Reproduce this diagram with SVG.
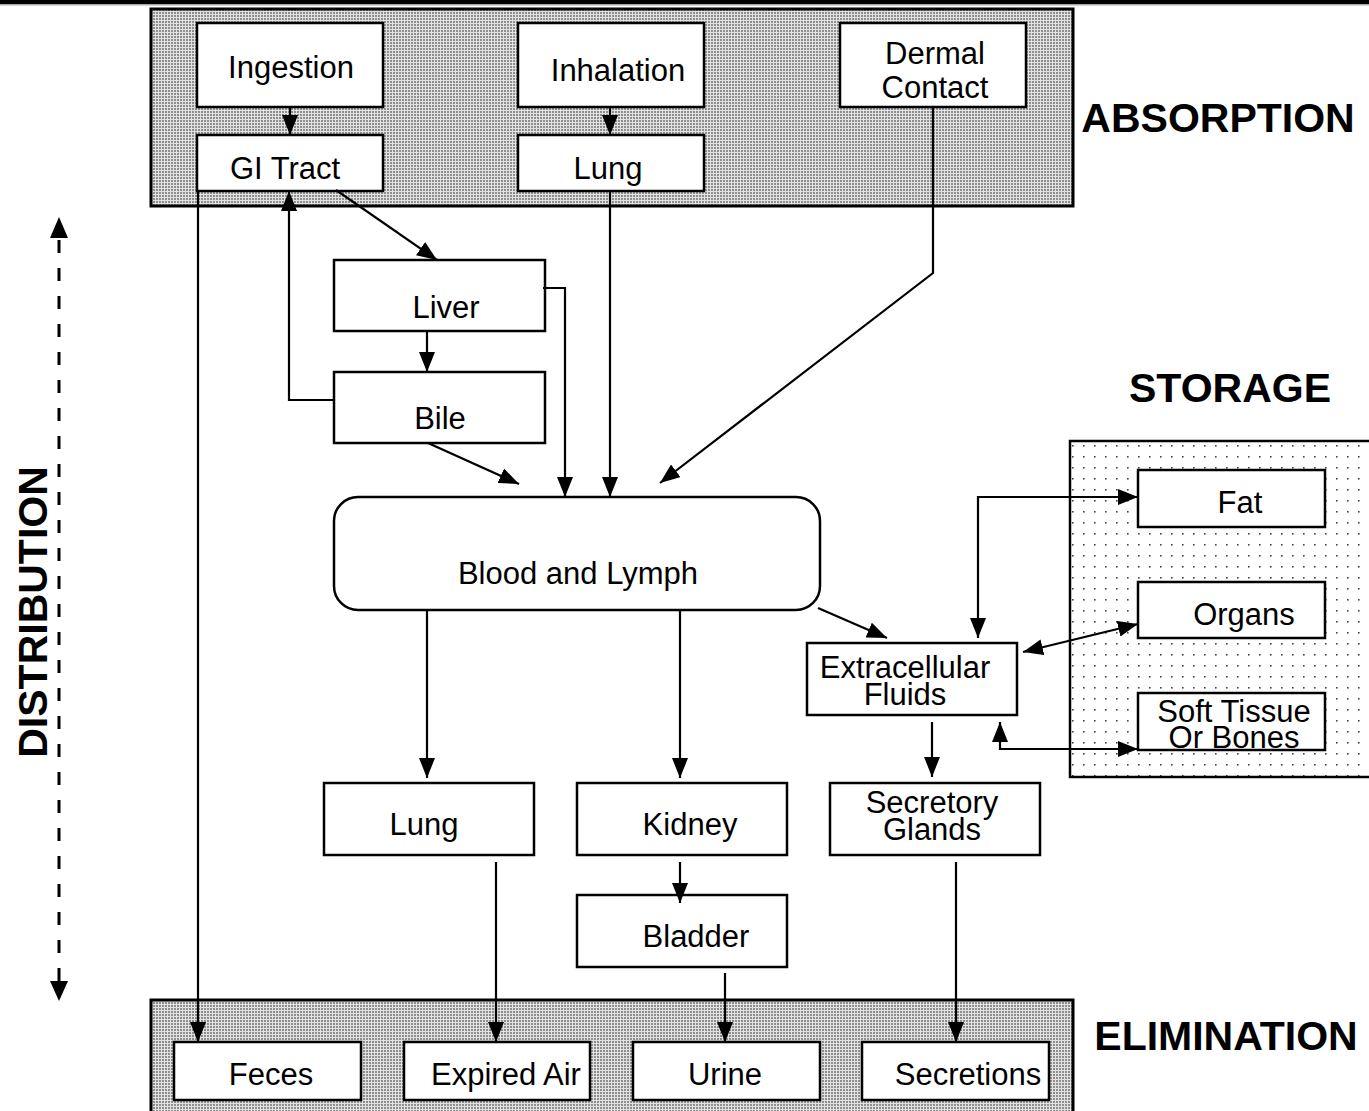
<svg xmlns="http://www.w3.org/2000/svg" width="1369" height="1111" viewBox="0 0 1369 1111">
<defs>
<pattern id="grey" width="3" height="3" patternUnits="userSpaceOnUse"><rect width="3" height="3" fill="#e2e2e2"/><rect width="2" height="2" fill="#8e8e8e"/></pattern>
<pattern id="dots" width="11" height="11" patternUnits="userSpaceOnUse"><rect width="11" height="11" fill="#fff"/><rect x="5" y="5" width="1.6" height="1.6" fill="#444"/></pattern>
<marker id="ah" markerWidth="20" markerHeight="16" refX="20" refY="8" orient="auto-start-reverse" markerUnits="userSpaceOnUse"><path d="M0,0 L20,8 L0,16 z" fill="#000"/></marker>
<style>
.box{fill:#fff;stroke:#000;stroke-width:2.5}
.band{fill:url(#grey);stroke:#000;stroke-width:3}
.t{font-family:"Liberation Sans",Arial,sans-serif;font-size:31px;fill:#000;text-anchor:middle}
.h{font-family:"Liberation Sans",Arial,sans-serif;font-size:41px;font-weight:bold;fill:#000;text-anchor:middle}
.c{fill:none;stroke:#000;stroke-width:2.2}
</style>
</defs>
<rect width="1369" height="1111" fill="#fff"/>
<rect x="0" y="0" width="1369" height="4" fill="#000"/>
<rect x="0" y="4" width="1369" height="1.5" fill="#aaa"/>

<g id="absorption-band"><rect class="band" x="151" y="9" width="922" height="197"/></g>
<g id="elimination-band"><rect class="band" x="151" y="1000" width="922" height="120"/></g>
<g id="storage-band"><rect x="1070" y="441" width="310" height="336" fill="url(#dots)" stroke="#000" stroke-width="2.5"/></g>

<g id="titles">
<text class="h" x="1218" y="132">ABSORPTION</text>
<text class="h" x="1230" y="402">STORAGE</text>
<text class="h" x="1226" y="1050">ELIMINATION</text>
<text class="h" transform="translate(47,612) rotate(-90)" x="0" y="0">DISTRIBUTION</text>
</g>

<g id="distribution-arrow">
<line x1="59" y1="236" x2="59" y2="983" stroke="#000" stroke-width="3" stroke-dasharray="13,15" stroke-dashoffset="-4"/>
<path d="M59,217 L68,238 L50,238 z" fill="#000"/>
<path d="M59,1001 L68,981 L50,981 z" fill="#000"/>
</g>

<g id="ingestion"><rect class="box" x="197" y="23" width="186" height="84"/><text class="t" x="291" y="78">Ingestion</text></g>
<g id="gi-tract"><rect class="box" x="197" y="135" width="186" height="56"/><text class="t" x="285" y="179">GI Tract</text></g>
<g id="inhalation"><rect class="box" x="518" y="23" width="186" height="84"/><text class="t" x="618" y="81">Inhalation</text></g>
<g id="lung-top"><rect class="box" x="518" y="135" width="186" height="56"/><text class="t" x="608" y="179">Lung</text></g>
<g id="dermal"><rect class="box" x="840" y="23" width="186" height="84"/><text class="t" x="935" y="64">Dermal</text><text class="t" x="935" y="98">Contact</text></g>
<g id="liver"><rect class="box" x="334" y="260" width="211" height="71"/><text class="t" x="446" y="318">Liver</text></g>
<g id="bile"><rect class="box" x="334" y="372" width="211" height="71"/><text class="t" x="440" y="429">Bile</text></g>
<g id="blood"><rect class="box" x="334" y="497" width="486" height="113" rx="24"/><text class="t" x="578" y="584">Blood and Lymph</text></g>
<g id="fat"><rect class="box" x="1138" y="470" width="187" height="57"/><text class="t" x="1240" y="513">Fat</text></g>
<g id="organs"><rect class="box" x="1138" y="582" width="187" height="56"/><text class="t" x="1244" y="625">Organs</text></g>
<g id="soft-tissue"><rect class="box" x="1138" y="693" width="187" height="57"/><text class="t" x="1234" y="722">Soft Tissue</text><text class="t" x="1234" y="748">Or Bones</text></g>
<g id="extracellular"><rect class="box" x="807" y="643" width="210" height="72"/><text class="t" x="905" y="678">Extracellular</text><text class="t" x="905" y="705">Fluids</text></g>
<g id="lung-bottom"><rect class="box" x="324" y="783" width="210" height="72"/><text class="t" x="424" y="835">Lung</text></g>
<g id="kidney"><rect class="box" x="577" y="783" width="210" height="72"/><text class="t" x="690" y="835">Kidney</text></g>
<g id="bladder"><rect class="box" x="577" y="895" width="210" height="72"/><text class="t" x="696" y="947">Bladder</text></g>
<g id="secretory"><rect class="box" x="830" y="783" width="210" height="72"/><text class="t" x="932" y="813">Secretory</text><text class="t" x="932" y="840">Glands</text></g>
<g id="feces"><rect class="box" x="174" y="1042" width="187" height="58"/><text class="t" x="271" y="1085">Feces</text></g>
<g id="expired-air"><rect class="box" x="404" y="1042" width="186" height="58"/><text class="t" x="506" y="1085">Expired Air</text></g>
<g id="urine"><rect class="box" x="633" y="1042" width="187" height="58"/><text class="t" x="725" y="1085">Urine</text></g>
<g id="secretions"><rect class="box" x="862" y="1042" width="187" height="58"/><text class="t" x="968" y="1085">Secretions</text></g>

<g id="connectors">
<path class="c" d="M290,107 V135" marker-end="url(#ah)"/>
<path class="c" d="M610,107 V135" marker-end="url(#ah)"/>
<path class="c" d="M198,191 V1042" marker-end="url(#ah)"/>
<path class="c" d="M336,190 L437,260" marker-end="url(#ah)"/>
<path class="c" d="M334,400 H289 V191" marker-end="url(#ah)"/>
<path class="c" d="M427,331 V372" marker-end="url(#ah)"/>
<path class="c" d="M543,288 H565 V497" marker-end="url(#ah)"/>
<path class="c" d="M428,443 L519,484" marker-end="url(#ah)"/>
<path class="c" d="M610,191 V497" marker-end="url(#ah)"/>
<path class="c" d="M933,107 V273 L660,483" marker-end="url(#ah)"/>
<path class="c" d="M427,610 V778" marker-end="url(#ah)"/>
<path class="c" d="M680,610 V778" marker-end="url(#ah)"/>
<path class="c" d="M818,608 L887,638" marker-end="url(#ah)"/>
<path class="c" d="M932,722 V777" marker-end="url(#ah)"/>
<path class="c" d="M978,638 V497 H1138" marker-start="url(#ah)" marker-end="url(#ah)"/>
<path class="c" d="M1023,652 L1138,624" marker-start="url(#ah)" marker-end="url(#ah)"/>
<path class="c" d="M1000,722 V749 H1138" marker-start="url(#ah)" marker-end="url(#ah)"/>
<path class="c" d="M496,862 V1042" marker-end="url(#ah)"/>
<path class="c" d="M680,862 V903" marker-end="url(#ah)"/>
<path class="c" d="M725,973 V1042" marker-end="url(#ah)"/>
<path class="c" d="M956,862 V1042" marker-end="url(#ah)"/>
</g>
</svg>
